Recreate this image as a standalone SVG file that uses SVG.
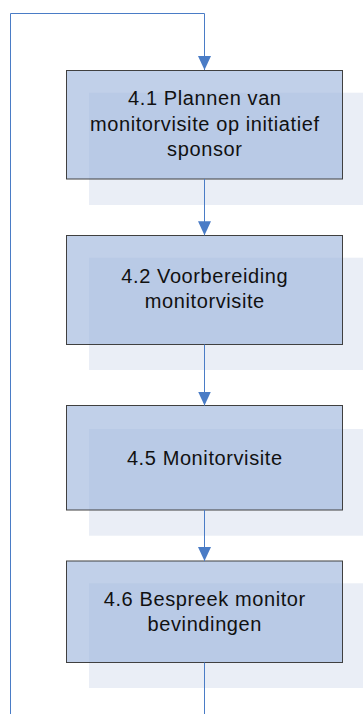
<svg xmlns="http://www.w3.org/2000/svg" width="363" height="714" viewBox="0 0 363 714">
  <style>
    .shadow { fill: #EAEEF6; }
    .box { fill: #9BB3DC; fill-opacity: 0.62; stroke: #404040; stroke-width: 1; }
    .label { font-family: "Liberation Sans", Arial, sans-serif; font-size: 20px; letter-spacing: 0.6px; fill: #111111; text-anchor: middle; }
    .link { fill: none; stroke: #4A7CC6; stroke-width: 1; }
  </style>
  <defs>
    <marker id="arrow" viewBox="0 0 14 13" refX="14" refY="6.5" markerWidth="14" markerHeight="13" markerUnits="userSpaceOnUse" orient="auto">
      <path d="M0,0 L14,6.5 L0,13 Z" fill="#4A7CC6"/>
    </marker>
  </defs>

  <rect width="363" height="714" fill="#FFFFFF"/>

  <!-- process steps -->
  <g id="step-4-1">
    <rect class="shadow" x="89" y="92.7" width="290" height="112.3"/>
    <rect class="box" x="66.5" y="70.5" width="276" height="108.5"/>
    <text class="label" x="204.8" y="104.5">4.1 Plannen van</text>
    <text class="label" x="204.8" y="130.5">monitorvisite op initiatief</text>
    <text class="label" x="204.8" y="156">sponsor</text>
  </g>

  <g id="step-4-2">
    <rect class="shadow" x="89" y="257.7" width="290" height="112.3"/>
    <rect class="box" x="66.5" y="235.5" width="276" height="109"/>
    <text class="label" x="204.8" y="283.3">4.2 Voorbereiding</text>
    <text class="label" x="204.8" y="308.3">monitorvisite</text>
  </g>

  <g id="step-4-5">
    <rect class="shadow" x="89" y="429" width="290" height="106.7"/>
    <rect class="box" x="66.5" y="405.5" width="276" height="104.5"/>
    <text class="label" x="204.8" y="465">4.5 Monitorvisite</text>
  </g>

  <g id="step-4-6">
    <rect class="shadow" x="89" y="583.3" width="290" height="104.7"/>
    <rect class="box" x="66.5" y="561" width="276" height="101.5"/>
    <text class="label" x="204.8" y="606">4.6 Bespreek monitor</text>
    <text class="label" x="204.8" y="630.7">bevindingen</text>
  </g>

  <!-- connectors -->
  <g id="connectors">
    <path class="link" d="M204.5,179 V235.3" marker-end="url(#arrow)"/>
    <path class="link" d="M204.5,344.5 V405.5" marker-end="url(#arrow)"/>
    <path class="link" d="M204.5,510 V561" marker-end="url(#arrow)"/>
    <!-- loop back from the last step to the first -->
    <path class="link" d="M204.5,662.5 V730 H10.5 V13.5 H204.5 V70" marker-end="url(#arrow)"/>
  </g>
</svg>
